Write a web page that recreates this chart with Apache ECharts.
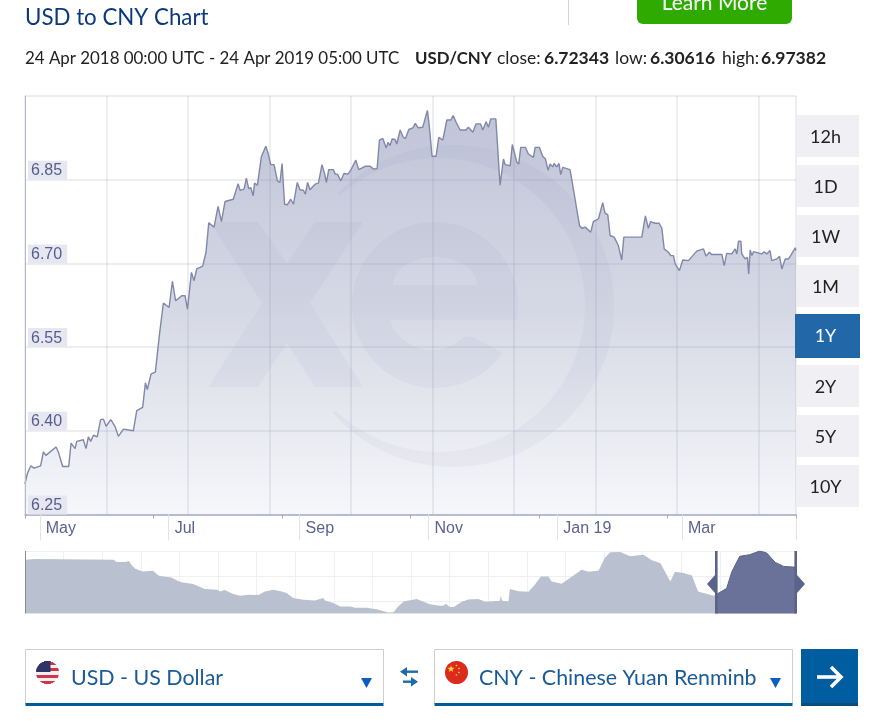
<!DOCTYPE html>
<html><head><meta charset="utf-8">
<style>html,body{margin:0;padding:0;background:#fff}#c{width:878px;height:728px}</style>
<script src="https://cdn.jsdelivr.net/npm/echarts@6/dist/echarts.min.js"></script>
</head><body><div id="c"></div>
<script>
// ---- data ----
const rangeStart = '2018-04-24';
const rangeEnd = '2019-04-24';
const monthTicks = ['2018-05-01','2018-07-01','2018-09-01','2018-11-01','2019-01-01','2019-03-01','2019-04-24'];
const monthLabels = ['May','Jul','Sep','Nov','Jan 19','Mar',''];
const rateTicks = [6.25,6.40,6.55,6.70,6.85,7.00];
const rateTickLabels = ['6.25','6.40','6.55','6.70','6.85'];
const rangeButtons = ['12h','1D','1W','1M','1Y','2Y','5Y','10Y'];
const activeRange = '1Y';

const rateDays = [0,1.1,2.7,4.3,7.4,8.7,9.9,14.7,15.8,17.8,20.7,21.8,23.7,24.5,27.6,28.9,30,31.1,32.4,34.2,35.8,37.1,38.4,40.6,42.6,44.2,46.6,51.3,52.9,55.7,57,57.9,59.7,61.7,63.6,65.5,68.2,69.8,71.3,74.2,75.8,76.9,78.8,80,81.3,84.1,85.7,87,89.5,91.4,93,94.7,98.6,100.9,101.8,103.7,104.8,105.9,106.9,108,108.7,110,111.9,112.8,114,115.2,116.3,117.9,119.5,120.7,
121.7,122.9,124.2,125.8,127.1,128.9,130.2,131.8,132.7,133.8,134.9,137.3,138.9,140.6,141.9,142.7,143.8,146,146.9,147.9,149.5,151,152.9,154.2,156.6,158,161,163.4,165,166.7,167.8,169.4,171,171.9,172.8,173.8,175.2,176,177.6,179.1,180.1,181.7,183.6,184.8,186.1,188.3,190.5,191.3,192.7,194.6,195.9,197.8,199.7,201.6,202.7,204.1,206,208.8,209.9,212,213.5,215.7,216.7,218.3,219.4,220.5,222.9,224.9,226.5,227.3,229.7,230.7,232.8,233.7,234.7,236.9,238.3,240.7,241.5,243.5,
245.1,246.4,247.6,248.6,249.8,250.5,251.7,252.8,253.6,254.6,258,258.8,259.6,262.5,263.6,265.2,267.8,269.1,271.5,273.5,274.6,275.9,277,278.9,280.9,282.5,283.5,292,293.7,295.1,296.2,298.3,300.2,301.5,302.6,304.6,305.7,307,307.8,309.8,311.4,314.1,318,321.2,322.4,324,325.1,329.9,331,332.2,334.6,336.2,337,337.8,338.9,339.3,340.9,342,342.6,343.3,344.1,344.9,348.8,349.9,351.2,352.7,353.5,355.9,357.2,358.3,359.9,361.4,362.5,364.6,365];
const rateValues = [6.305,6.323,6.337,6.333,6.337,6.362,6.356,6.371,6.362,6.336,6.336,6.378,6.368,6.381,6.384,6.368,6.389,6.381,6.392,6.389,6.420,6.421,6.408,6.420,6.408,6.390,6.403,6.400,6.436,6.442,6.486,6.474,6.502,6.505,6.571,6.629,6.621,6.668,6.633,6.642,6.642,6.618,6.684,6.669,6.690,6.695,6.720,6.773,6.765,6.802,6.775,6.811,6.815,6.843,6.831,6.833,6.853,6.834,6.836,6.821,6.844,6.840,6.891,6.890,6.910,6.896,6.877,6.877,6.848,6.845,
6.879,6.806,6.805,6.815,6.806,6.845,6.832,6.831,6.824,6.845,6.832,6.842,6.844,6.877,6.860,6.845,6.868,6.868,6.860,6.860,6.848,6.861,6.860,6.867,6.885,6.868,6.874,6.874,6.869,6.870,6.921,6.924,6.907,6.917,6.911,6.923,6.922,6.914,6.939,6.926,6.924,6.940,6.943,6.951,6.943,6.944,6.974,6.950,6.892,6.892,6.926,6.921,6.957,6.957,6.965,6.953,6.939,6.939,6.944,6.935,6.950,6.950,6.939,6.954,6.944,6.959,6.959,6.840,6.887,6.877,6.875,6.913,6.882,6.878,6.908,6.908,6.896,6.890,6.908,6.908,
6.892,6.887,6.867,6.878,6.873,6.879,6.873,6.879,6.859,6.872,6.868,6.851,6.852,6.768,6.763,6.765,6.756,6.775,6.780,6.809,6.790,6.787,6.750,6.747,6.732,6.706,6.747,6.747,6.785,6.763,6.775,6.772,6.772,6.763,6.726,6.720,6.714,6.714,6.699,6.687,6.706,6.705,6.722,6.726,6.713,6.720,6.716,6.716,6.696,6.718,6.717,6.726,6.717,6.740,6.740,6.717,6.708,6.711,6.681,6.724,6.714,6.721,6.717,6.721,6.717,6.723,6.705,6.708,6.713,6.690,6.708,6.708,6.714,6.728,6.723];

// overview strip: years since the start of the long history, and rate
const overviewYears = [0,0.13,1.15,1.19,1.30,1.35,1.38,1.43,1.49,1.53,1.66,1.73,1.79,1.90,2.01,2.18,2.33,2.49,2.53,2.59,2.70,2.79,2.90,3.03,3.11,3.22,3.33,3.39,3.48,3.61,3.76,3.87,3.89,4.00,4.09,4.22,4.28,4.43,4.56,4.71,4.78,4.84,4.91,5.08,5.25,5.38,5.43,5.46,5.51,5.56,5.66,5.75,5.88,5.97,6.16,6.17,6.19,6.27,6.29,6.40,6.53,6.61,6.69,6.79,6.83,6.96,7.16,7.22,7.31,7.44,7.52,7.59,7.72,7.85,8.02,8.13,8.24,8.37,8.43,8.54,8.65,8.73,8.80,8.93,8.96,9.10,9.17,9.27,9.40,9.53,9.62,9.73,9.84,9.96,10];
const overviewRates = [6.843,6.853,6.843,6.807,6.807,6.823,6.767,6.706,6.680,6.665,6.675,6.604,6.589,6.574,6.503,6.472,6.396,6.386,6.360,6.381,6.320,6.294,6.310,6.305,6.360,6.386,6.360,6.335,6.259,6.233,6.223,6.259,6.223,6.183,6.132,6.132,6.111,6.111,6.091,6.040,6.045,6.132,6.208,6.244,6.167,6.142,6.147,6.172,6.122,6.122,6.198,6.238,6.244,6.203,6.218,6.294,6.218,6.208,6.396,6.365,6.355,6.457,6.589,6.589,6.513,6.477,6.640,6.691,6.660,6.680,6.868,6.955,6.960,6.894,6.919,6.833,6.792,6.513,6.660,6.640,6.604,6.360,6.335,6.294,6.310,6.406,6.665,6.894,6.919,6.975,6.945,6.802,6.741,6.731,6.731];
const overviewSelectedFrom = 8.96;

// ---- building ----
const DAY = 86400000;
const toTime = s => Date.parse(s + 'T00:00:00Z');
const t0 = toTime(rangeStart);
const dayOf = s => (toTime(s) - t0) / DAY;
const monthDays = monthTicks.map(dayOf);
const ratePoints = rateDays.map((d, i) => [d, rateValues[i]]);
const overviewPoints = overviewYears.map((y, i) => [y, overviewRates[i]]);
const overviewPast = overviewPoints.filter(p => p[0] <= overviewSelectedFrom);
const overviewPicked = overviewPoints.filter(p => p[0] >= overviewSelectedFrom);

const SANS = 'Lato, "Noto Sans", sans-serif';
const AXISFONT = '"Liberation Sans", Arial, sans-serif';
const g = [];
const txt = (x, y, s, o) => g.push({type:'text', x, y, z:20, style:Object.assign({text:s, fill:'#222', font:'17px '+SANS, textVerticalAlign:'middle', verticalAlign:'middle'}, o||{})});
const rect = (x, y, w, h, fill, o) => g.push(Object.assign({type:'rect', z:20, shape:{x,y,width:w,height:h}, style:{fill}}, o||{}));
const poly = (pts, fill, z) => g.push({type:'polygon', z:z||20, shape:{points:pts}, style:{fill}});
const arcPts = (cx, cy, rx, ry, a0, a1, n) => {
  const out = [];
  for (let i = 0; i <= n; i++) { const a = (a0 + (a1 - a0) * i / n) * Math.PI / 180; out.push([cx + rx * Math.cos(a), cy + ry * Math.sin(a)]); }
  return out;
};

// header
txt(25, 18, 'USD to CNY Chart', {fill:'#0c3a79', font:'22.3px '+SANS});
rect(568, 0, 1, 25, '#d4d4d4');
g.push({type:'rect', z:20, shape:{x:637,y:-20,width:155,height:44,r:6}, style:{fill:'#2eaa00'}});
txt(714.5, 3, 'Learn More', {fill:'#fff', font:'21px '+SANS, align:'center', textAlign:'center'});
txt(25, 58.5, '24 Apr 2018 00:00 UTC - 24 Apr 2019 05:00 UTC', {font:'16.9px '+SANS});
txt(415, 58.5, 'USD/CNY', {font:'bold 16.8px '+SANS});
txt(497, 58.5, 'close:', {font:'17.5px '+SANS});
txt(544, 58.5, '6.72343', {font:'bold 17.5px '+SANS});
txt(615, 58.5, 'low:', {font:'17.5px '+SANS});
txt(650, 58.5, '6.30616', {font:'bold 17.5px '+SANS});
txt(722, 58.5, 'high:', {font:'17.5px '+SANS});
txt(761, 58.5, '6.97382', {font:'bold 17.5px '+SANS});

// watermark (sits between the area fill and the white mask above the line)
const wm = 'rgba(105,113,158,0.055)';
poly([[210,222],[258,222],[287,263],[315,222],[363,222],[310,303],[363,387],[315,387],[287,343],[258,387],[208,387],[262,303]], wm, 3);
poly([].concat(
  arcPts(435,305,83,83,10.4,-324.8,90),
  [[473,337]],
  arcPts(432,305,45,45,45,160,24),
  [[392,320],[393,285]],
  arcPts(435,285,42,28,180,360,30),
  [[393,285],[392,320]]
), wm, 3);
poly([].concat(
  arcPts(453,306,161,161,-135.7,138.3,90),
  arcPts(438,305,147,147,134,-132,90)
), wm, 3);

// range buttons
const btnY = [115,165,215,265,314,365,415,465];
rangeButtons.forEach((b, i) => {
  const on = b === activeRange;
  if (on) rect(795, btnY[i], 65, 44, '#2268a9'); else rect(797, btnY[i], 62, 42, '#f0f0f4');
  txt(825.5, btnY[i] + 22.3, b, {fill: on ? '#fff' : '#222', font:'18px '+SANS, align:'center', textAlign:'center'});
});

// overview handles
rect(715, 551, 2.6, 62.5, '#5a6389');
rect(794.4, 551, 2.6, 62.5, '#5a6389');
poly([[707,584],[715,575],[715,593]], '#5a6389');
poly([[805,584],[797,575],[797,593]], '#5a6389');
rect(25, 551, 1, 62.5, '#8a8d98');

// selectors
function selector(x, w, label, tx) {
  g.push({type:'rect', z:20, shape:{x:x+0.5,y:649.5,width:w,height:54}, style:{fill:'#fff', stroke:'#cfcfcf', lineWidth:1}});
  rect(x+0.5, 703, w, 3, '#005b99');
  txt(tx, 678, label, {fill:'#1a5a96', font:'21.4px '+SANS});
  const ax = x + w - 22;
  poly([[ax,678],[ax+11,678],[ax+5.5,688]], '#0b5fc0');
}
selector(25, 358, 'USD - US Dollar', 71);
selector(434, 358, 'CNY - Chinese Yuan Renminb', 479);
// US flag drawn row by row inside a circle
(function(){
  const cx=47.5, cy=672.5, r=11.5, stripes=['#c8384a','#f4eef0'];
  for (let y=-11; y<=11; y++) {
    const half=Math.sqrt(Math.max(0,r*r-y*y));
    const band=Math.floor((y+11)/3.3)%2;
    rect(cx-half, cy+y-0.5, half*2, 1.05, stripes[band]);
    if (y<0) rect(cx-half, cy+y-0.5, Math.max(0,half+3), 1.05, '#2c3566');
  }
  g.push({type:'circle', z:20, shape:{cx:456.5,cy:672.5,r:11.5}, style:{fill:'#dc2a1c'}});
  const star=(sx,sy,R)=>{const p=[];for(let i=0;i<10;i++){const a=-Math.PI/2+i*Math.PI/5,q=i%2?R*0.42:R;p.push([sx+q*Math.cos(a),sy+q*Math.sin(a)]);}poly(p,'#f7d23a',21);};
  star(451,669,3.8); star(456.5,665.5,1.3); star(459,668.5,1.3); star(459,672.5,1.3); star(456.5,675,1.3);
})();
// swap icon
[[402,671.7,418],[400,681.7,415]].forEach(a=>rect(a[0]+3,a[1]-1.2,a[2]-a[0]-3,2.4,'#1c6da7'));
poly([[400,671.7],[407,667],[407,676.4]],'#1c6da7');
poly([[418,681.7],[411,677],[411,686.4]],'#1c6da7');
// go button
rect(801,649,57,57,'#005d9f');
rect(801,703,57,3,'#0a4c7a');
g.push({type:'polyline', z:21, shape:{points:[[817,677],[840,677]]}, style:{stroke:'#fff', lineWidth:3.6, fill:null}});
g.push({type:'polyline', z:21, shape:{points:[[831,667],[841,677],[831,687]]}, style:{stroke:'#fff', lineWidth:3.6, fill:null}});

const gridColor = 'rgba(135,140,172,0.2)';
const option = {
  animation:false, backgroundColor:'#fff',
  grid:[{left:25, top:96, width:771, height:418.5},{left:25, top:551, width:771, height:62.5}],
  xAxis:[
    {type:'value', gridIndex:0, position:'bottom', min:0, max:dayOf(rangeEnd), z:6, splitLine:{show:false},
     axisLine:{lineStyle:{color:'#a6abc4', width:1.5}},
     axisTick:{show:true, length:26, lineStyle:{color:'#e2e2ea', width:1}, customValues:monthDays},
     axisLabel:{customValues:monthDays, align:'left', margin:6, padding:[0,0,0,6], color:'#5c6290', fontFamily:AXISFONT, fontSize:16,
       formatter:v=>monthLabels[monthDays.indexOf(v)]||''}},
    {type:'value', gridIndex:0, position:'bottom', min:0, max:9.46, interval:1, z:6, axisLine:{show:false}, axisTick:{show:false}, axisLabel:{show:false},
     splitLine:{show:true, lineStyle:{color:gridColor, width:1.5}}},
    {type:'value', gridIndex:0, position:'bottom', min:0, max:6, interval:1, z:6, axisLine:{show:false}, axisLabel:{show:false}, splitLine:{show:false},
     axisTick:{show:true, length:4, lineStyle:{color:'#a6abc4'}}},
    {type:'value', gridIndex:1, min:0, max:10, show:false},
    {type:'value', gridIndex:1, min:0, max:19.97, interval:1, axisLine:{show:false}, axisTick:{show:false}, axisLabel:{show:false},
     splitLine:{show:true, lineStyle:{color:'#efeff4'}}}
  ],
  yAxis:[
    {type:'value', gridIndex:0, min:6.25, max:7, z:6, position:'left',
     axisLine:{show:true, lineStyle:{color:'#b4b8cc', width:1}},
     axisTick:{show:false, customValues:rateTicks},
     splitLine:{show:true, lineStyle:{color:gridColor, width:1.5}},
     axisLabel:{inside:true, customValues:rateTicks.slice(0,5), margin:3, color:'#565d8c', fontFamily:AXISFONT, fontSize:16, verticalAlign:'bottom',
       backgroundColor:'#e7e7f1', padding:[2,5,1,3], formatter:v=>rateTickLabels[rateTicks.indexOf(v)]||''}},
    {type:'value', gridIndex:1, min:6.025, max:6.975, show:false},
    {type:'value', gridIndex:1, min:0, max:2.477, interval:1, inverse:true, axisLine:{show:false}, axisTick:{show:false}, axisLabel:{show:false},
     splitLine:{show:true, lineStyle:{color:'#efeff4'}}}
  ],
  series:[
    {type:'line', z:2, xAxisIndex:0, yAxisIndex:0, data:ratePoints, showSymbol:false, silent:true, lineStyle:{width:0},
     areaStyle:{opacity:1, color:{type:'linear',x:0,y:0,x2:0,y2:1,colorStops:[{offset:0,color:'#bfc4d7'},{offset:0.5,color:'#d6d9e5'},{offset:1,color:'#f6f7fa'}]}}},
    {type:'line', z:4, xAxisIndex:0, yAxisIndex:0, data:ratePoints, showSymbol:false, silent:true, lineStyle:{width:1.4,color:'#8087a9'},
     areaStyle:{opacity:1, origin:'end', color:'#fff'}},
    {type:'line', z:4, xAxisIndex:3, yAxisIndex:1, data:overviewPast, showSymbol:false, silent:true, lineStyle:{width:0},
     areaStyle:{opacity:1, color:'#b9c0cf'}},
    {type:'line', z:4, xAxisIndex:3, yAxisIndex:1, data:overviewPicked, showSymbol:false, silent:true, lineStyle:{width:1,color:'#5a6389'},
     areaStyle:{opacity:1, color:'#6b7299'}}
  ],
  graphic:{elements:g}
};
const chart = echarts.init(document.getElementById('c'));
chart.setOption(option);
</script></body></html>
